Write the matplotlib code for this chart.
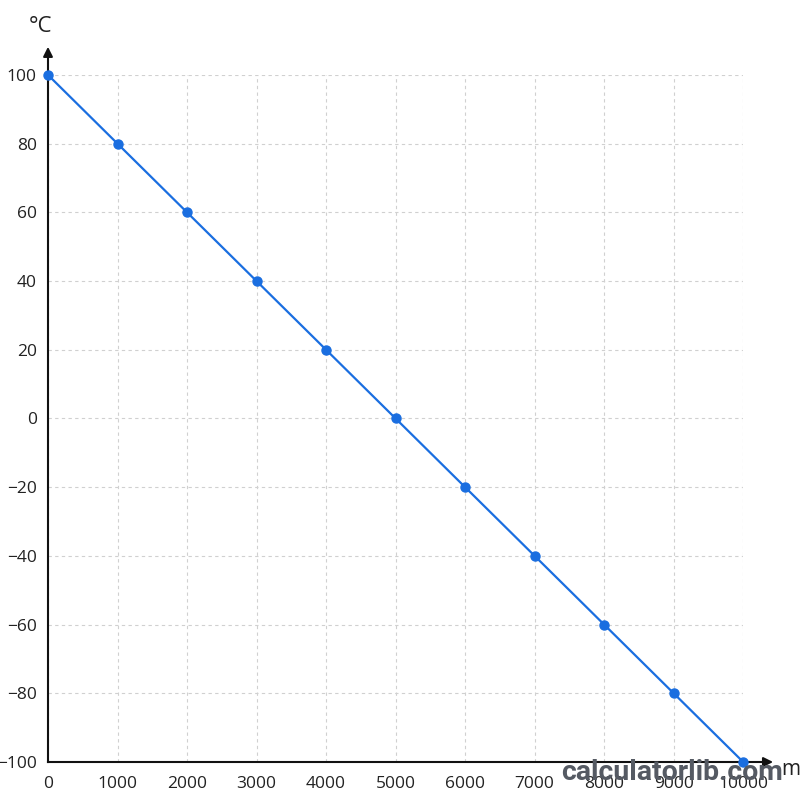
import matplotlib
matplotlib.use("Agg")
import matplotlib.pyplot as plt
import numpy as np

plt.rcParams['font.family'] = ['Open Sans', 'DejaVu Sans']

altitude_m = [0, 1000, 2000, 3000, 4000, 5000, 6000, 7000, 8000, 9000, 10000]
temperature_c = [100, 80, 60, 40, 20, 0, -20, -40, -60, -80, -100]
x_ticks = [0, 1000, 2000, 3000, 4000, 5000, 6000, 7000, 8000, 9000, 10000]
y_ticks = [-100, -80, -60, -40, -20, 0, 20, 40, 60, 80, 100]

fig = plt.figure(figsize=(8, 8), dpi=100)
ax = fig.add_axes([0.06, 0.0475, 0.869, 0.8588])

ax.plot(altitude_m, temperature_c, color='#1a6ee0', lw=1.6, marker='o',
        markersize=6.5, clip_on=False, zorder=5)

ax.set_xlim(0, 10000)
ax.set_ylim(-100, 100)
ax.set_xticks(x_ticks)
ax.set_yticks(y_ticks)
ax.tick_params(length=0, labelsize=12.5, colors='#222222')
ax.tick_params(axis='x', pad=10)
ax.tick_params(axis='y', pad=8)

ax.grid(True, color='#d0d0d0', linestyle=(0, (3, 3)), lw=0.8)
for s in ['top', 'right']:
    ax.spines[s].set_visible(False)
for s in ['left', 'bottom']:
    ax.spines[s].set_color('#111111')
    ax.spines[s].set_linewidth(1.5)

# axis arrows
ax.annotate('', xy=(1.047, 0), xytext=(1.0, 0), xycoords='axes fraction',
            arrowprops=dict(arrowstyle='-|>', color='#111111', lw=1.5, mutation_scale=14))
ax.annotate('', xy=(0, 1.045), xytext=(0, 1.0), xycoords='axes fraction',
            arrowprops=dict(arrowstyle='-|>', color='#111111', lw=1.5, mutation_scale=14))

fig.text(0.051, 0.9675, '°C', fontsize=16, color='#222222', ha='center', va='center')
fig.text(0.988, 0.038, 'm', fontsize=15, color='#222222', ha='center', va='center')

fig.text(0.84, 0.035, 'calculatorlib.com', fontsize=20.5, fontweight='bold',
         color='#555a63', ha='center', va='center', family=['Roboto', 'DejaVu Sans'])

fig.savefig('out.png', dpi=100)
